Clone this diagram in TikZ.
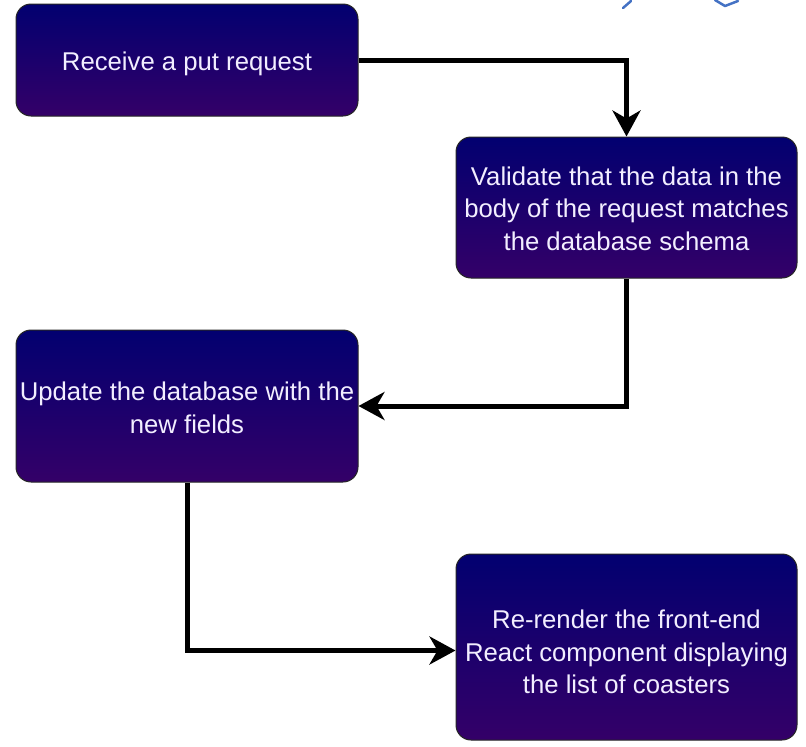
\documentclass[tikz,border=0pt]{standalone}
\usepackage{fontspec}
\setmainfont{Liberation Sans}
\usetikzlibrary{arrows.meta}
\definecolor{boxtop}{RGB}{2,0,112}
\definecolor{boxbottom}{RGB}{52,0,104}
\definecolor{boxtext}{RGB}{242,238,255}
\definecolor{inkblue}{RGB}{68,114,196}
\tikzset{
  stepbox/.style={rectangle, rounded corners=15pt, draw=black!85, line width=1pt,
    top color=boxtop, bottom color=boxbottom, inner sep=0pt},
  steptext/.style={text=boxtext, align=center, inner sep=0pt,
    font=\fontsize{25.7pt}{32.5pt}\selectfont},
  flow/.style={line width=5pt, draw=black,
    -{Stealth[length=26pt, width=28pt, inset=8pt]}}
}
\begin{document}
\begin{tikzpicture}[x=1pt, y=-1pt]
  \useasboundingbox (0,0) rectangle (806,747);

  % process steps
  \node[stepbox, minimum width=342pt, minimum height=112pt] (recv) at (187,60) {};
  \node[steptext] (recv-t) at ([yshift=-3.5pt]recv.center)
    {Receive a put request};
  \node[stepbox, minimum width=341pt, minimum height=141pt] (valid) at (626.5,207.5) {};
  \node[steptext] (valid-t) at ([yshift=-1pt]valid.center)
    {Validate that the data in the\\body of the request matches\\the database schema};
  \node[stepbox, minimum width=342pt, minimum height=152pt] (update) at (187,406) {};
  \node[steptext] (update-t) at ([yshift=-2pt]update.center)
    {Update the database with the\\new fields};
  \node[stepbox, minimum width=341pt, minimum height=186pt] (render) at (626.5,647) {};
  \node[steptext] (render-t) at ([yshift=-5pt]render.center)
    {Re-render the front-end\\React component displaying\\the list of coasters};

  % connectors
  \draw[flow] (recv.east) -| (valid.north);
  \draw[flow] (valid.south) |- (update.east);
  \draw[flow] (update.south) |- ([yshift=-3.5pt]render.west);

  % pen strokes at the top edge
  \draw[inkblue, line width=2.5pt, line cap=round] (623,8) -- (631,1);
  \draw[inkblue, line width=2.5pt, line cap=round, line join=round]
    (715,0) -- (725,6) -- (738,1);
\end{tikzpicture}
\end{document}
